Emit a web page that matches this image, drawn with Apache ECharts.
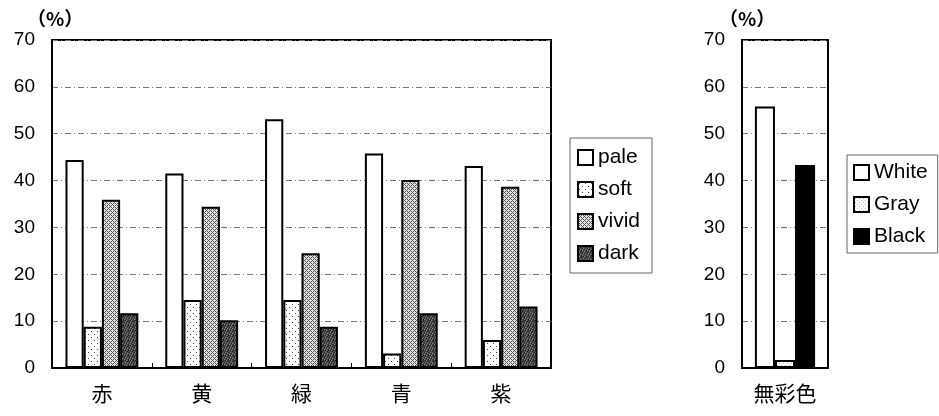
<!DOCTYPE html>
<html>
<head>
<meta charset="utf-8">
<script src="https://cdn.jsdelivr.net/npm/echarts@6/dist/echarts.min.js"></script>
<style>
  html, body { margin: 0; padding: 0; background: #fff; }
  #chart { width: 939px; height: 416px; }
</style>
</head>
<body>
<div id="chart"></div>
<script>
// Hue categories and tone series (percent)
const hueCategories = ['赤', '黄', '緑', '青', '紫'];
const toneNames = ['pale', 'soft', 'vivid', 'dark'];
const paleValues  = [44.4, 41.5, 53.1, 45.8, 43.1];
const softValues  = [8.8, 14.5, 14.5, 3.1, 6.0];
const vividValues = [35.9, 34.4, 24.5, 40.1, 38.7];
const darkValues  = [11.7, 10.2, 8.8, 11.7, 13.1];

// Achromatic category and series (percent)
const achroCategories = ['無彩色'];
const achroNames = ['White', 'Gray', 'Black'];
const whiteValues = [55.8];
const grayValues  = [1.7];
const blackValues = [43.3];

const yTicks = [0, 10, 20, 30, 40, 50, 60, 70];

// Fill textures drawn on small canvases
function makePattern(size, draw) {
  const c = document.createElement('canvas');
  c.width = size; c.height = size;
  const ctx = c.getContext('2d');
  draw(ctx, size);
  return c;
}
const dotPattern = makePattern(6, (ctx) => {
  ctx.fillStyle = '#fff'; ctx.fillRect(0, 0, 6, 6);
  ctx.fillStyle = '#444';
  ctx.fillRect(1, 1, 1, 1);
  ctx.fillRect(4, 4, 1, 1);
});
const crossPattern = makePattern(4, (ctx) => {
  ctx.fillStyle = '#e4e4e4'; ctx.fillRect(0, 0, 4, 4);
  ctx.fillStyle = '#555';
  ctx.fillRect(0, 0, 1, 1);
  ctx.fillRect(1, 1, 1, 1);
  ctx.fillRect(2, 2, 1, 1);
  ctx.fillRect(3, 3, 1, 1);
  ctx.fillRect(3, 1, 1, 1);
  ctx.fillRect(1, 3, 1, 1);
});
const darkPattern = makePattern(5, (ctx) => {
  ctx.fillStyle = '#4a4a4a'; ctx.fillRect(0, 0, 5, 5);
  ctx.fillStyle = '#1e1e1e';
  ctx.fillRect(0, 0, 1, 1); ctx.fillRect(2, 1, 1, 1);
  ctx.fillRect(4, 2, 1, 1); ctx.fillRect(1, 3, 1, 1);
  ctx.fillRect(3, 4, 1, 1); ctx.fillRect(3, 0, 1, 1);
  ctx.fillStyle = '#8a8a8a';
  ctx.fillRect(1, 0, 1, 1); ctx.fillRect(4, 4, 1, 1);
  ctx.fillRect(2, 3, 1, 1); ctx.fillRect(0, 2, 1, 1);
});
const lightDotPattern = makePattern(4, (ctx) => {
  ctx.fillStyle = '#fff'; ctx.fillRect(0, 0, 4, 4);
  ctx.fillStyle = '#bbb';
  ctx.fillRect(1, 1, 1, 1);
  ctx.fillRect(3, 3, 1, 1);
});
const pat = (img) => ({ image: img, repeat: 'repeat' });

const FONT = 'Liberation Sans, Arial, sans-serif';
const CJK = 'Noto Sans CJK JP, sans-serif';

const gridLine = { show: true, lineStyle: { color: '#777', width: 1, type: [6, 3, 1, 3] } };

function yAxisFor(gridIndex) {
  return {
    type: 'value', gridIndex, min: 0, max: 70, interval: 10,
    axisLine: { show: true, lineStyle: { color: '#000', width: 2 } },
    axisTick: { show: false },
    axisLabel: { color: '#000', fontFamily: FONT, fontSize: 19, margin: 17,
      formatter: (v) => yTicks.includes(v) ? String(v) : '' },
    splitLine: gridLine
  };
}
function xAxisFor(gridIndex, data) {
  return {
    type: 'category', gridIndex, data,
    axisLine: { show: true, lineStyle: { color: '#000', width: 2 } },
    axisTick: { show: true, inside: true, length: 5, lineStyle: { color: '#000' } },
    axisLabel: { color: '#000', fontFamily: CJK, fontSize: 21, margin: 15 }
  };
}
function barSeries(name, data, fill, axisIdx, catGap) {
  return {
    name, type: 'bar', data,
    xAxisIndex: axisIdx, yAxisIndex: axisIdx,
    barGap: '0%', barCategoryGap: catGap,
    itemStyle: { color: fill, borderColor: '#000', borderWidth: 2 },
    emphasis: { disabled: true },
    animation: false
  };
}

const chart = echarts.init(document.getElementById('chart'), null, { renderer: 'canvas' });
chart.setOption({
  backgroundColor: '#fff',
  animation: false,
  grid: [
    { left: 52, right: 388, top: 40, bottom: 48, show: true, borderColor: '#000', borderWidth: 2 },
    { left: 742, width: 86, top: 40, bottom: 48, show: true, borderColor: '#000', borderWidth: 2 }
  ],
  xAxis: [xAxisFor(0, hueCategories), xAxisFor(1, achroCategories)],
  yAxis: [yAxisFor(0), yAxisFor(1)],
  legend: [
    {
      data: toneNames, orient: 'vertical', left: 570, top: 138,
      itemWidth: 15, itemHeight: 15, itemGap: 11, icon: 'rect',
      padding: [9, 12, 9, 7],
      borderColor: '#666', borderWidth: 1,
      textStyle: { color: '#000', fontFamily: FONT, fontSize: 21 },
      selectedMode: false
    },
    {
      data: achroNames, orient: 'vertical', left: 847, top: 155,
      itemWidth: 15, itemHeight: 15, itemGap: 11, icon: 'rect',
      padding: [7, 10, 6, 6],
      borderColor: '#666', borderWidth: 1,
      textStyle: { color: '#000', fontFamily: FONT, fontSize: 21 },
      selectedMode: false
    }
  ],
  graphic: [
    { type: 'text', left: 27, top: 9, style: { text: '（%）', font: 'bold 19px ' + CJK, fill: '#000' } },
    { type: 'text', left: 719, top: 9, style: { text: '（%）', font: 'bold 19px ' + CJK, fill: '#000' } }
  ],
  series: [
    barSeries('pale', paleValues, '#fff', 0, '27%'),
    barSeries('soft', softValues, pat(dotPattern), 0, '27%'),
    barSeries('vivid', vividValues, pat(crossPattern), 0, '27%'),
    barSeries('dark', darkValues, pat(darkPattern), 0, '27%'),
    barSeries('White', whiteValues, '#fff', 1, '30%'),
    barSeries('Gray', grayValues, pat(lightDotPattern), 1, '30%'),
    barSeries('Black', blackValues, '#000', 1, '30%')
  ]
});
</script>
</body>
</html>
